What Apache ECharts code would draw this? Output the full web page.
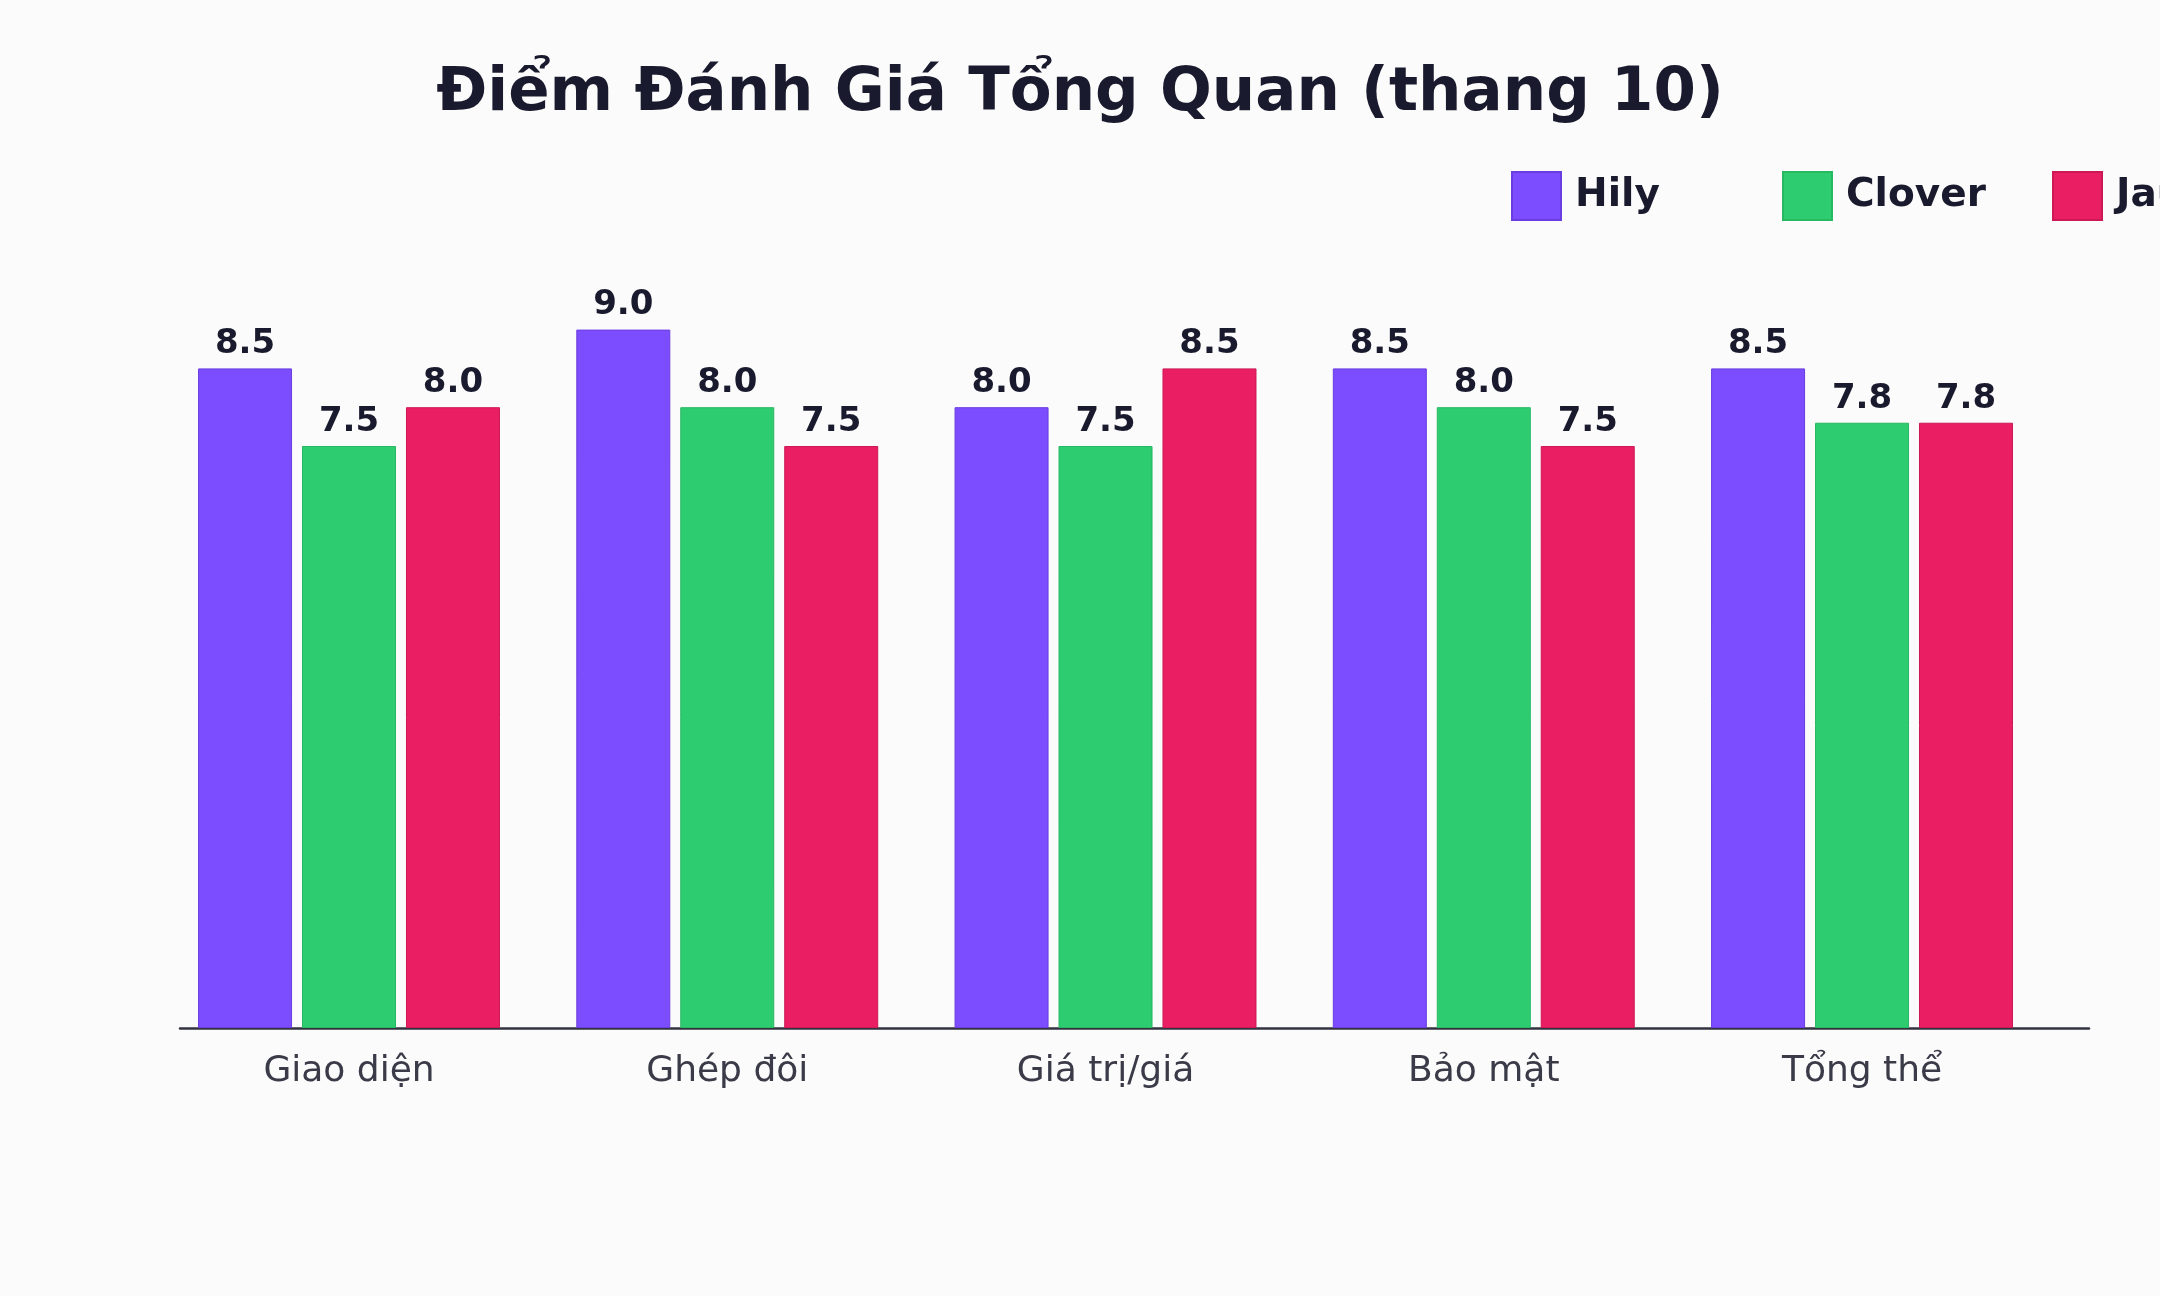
<!DOCTYPE html>
<html>
<head>
<meta charset="utf-8">
<script src="https://cdn.jsdelivr.net/npm/echarts@6/dist/echarts.min.js"></script>
<style>
html,body{margin:0;padding:0;background:#fbfbfb;}
#chart{width:2160px;height:1296px;}
</style>
</head>
<body>
<div id="chart"></div>
<script>
const categories = ['Giao diện', 'Ghép đôi', 'Giá trị/giá', 'Bảo mật', 'Tổng thể'];
const seriesNames = ['Hily', 'Clover', 'Jaumo'];
const hily = [8.5, 9.0, 8.0, 8.5, 8.5];
const clover = [7.5, 8.0, 7.5, 8.0, 7.8];
const jaumo = [8.0, 7.5, 8.5, 7.5, 7.8];
const colors = ['#7c4dff', '#2ecc71', '#e91e63'];
const borders = ['#6a3de0', '#27b862', '#cc1855'];
const legendLefts = [1511, 1782, 2052];

const FONT = 'DejaVu Sans';
const chart = echarts.init(document.getElementById('chart'), null, {renderer: 'canvas'});

function mk(name, vals, i) {
  return {
    name: name,
    type: 'bar',
    data: vals.map((v, k) => [k, v]),
    barWidth: 94,
    barGap: '10.6%',
    itemStyle: {color: colors[i], borderColor: borders[i], borderWidth: 1},
    label: {
      show: true,
      position: 'top',
      distance: 7,
      formatter: p => p.value[1].toFixed(1),
      fontFamily: FONT,
      fontSize: 34,
      lineHeight: 34,
      fontWeight: 'bold',
      color: '#1a1a2e'
    },
    emphasis: {disabled: true}
  };
}

chart.setOption({
  backgroundColor: '#fbfbfb',
  animation: false,
  title: {
    text: 'Điểm Đánh Giá Tổng Quan (thang 10)',
    left: 'center',
    top: 59,
    textStyle: {fontFamily: FONT, fontSize: 61, lineHeight: 61, fontWeight: 'bold', color: '#1a1a2e'}
  },
  legend: seriesNames.map((n, i) => ({
    data: [n],
    left: legendLefts[i],
    top: 171,
    width: 600,
    padding: 0,
    itemWidth: 49,
    itemHeight: 48,
    icon: 'rect',
    selectedMode: false,
    textStyle: {fontFamily: FONT, fontSize: 39, fontWeight: 'bold', color: '#1a1a2e', padding: [0, 0, 0, 9]}
  })),
  grid: {left: 180, right: 71, top: 252, bottom: 268, containLabel: false, outerBoundsMode: 'none'},
  xAxis: {
    type: 'value',
    min: -0.4468,
    max: 4.6,
    splitLine: {show: false},
    axisTick: {show: false},
    axisLine: {show: true, onZero: false, lineStyle: {color: '#333340', width: 2.5}},
    axisLabel: {
      customValues: [0, 1, 2, 3, 4],
      formatter: v => categories[Math.round(v)] || '',
      fontFamily: FONT,
      fontSize: 36,
      lineHeight: 36,
      color: '#3a3a48',
      margin: 26
    }
  },
  yAxis: {
    type: 'value',
    min: 0,
    max: 10,
    show: false,
    splitLine: {show: false}
  },
  series: [mk(seriesNames[0], hily, 0), mk(seriesNames[1], clover, 1), mk(seriesNames[2], jaumo, 2)]
});
</script>
</body>
</html>
